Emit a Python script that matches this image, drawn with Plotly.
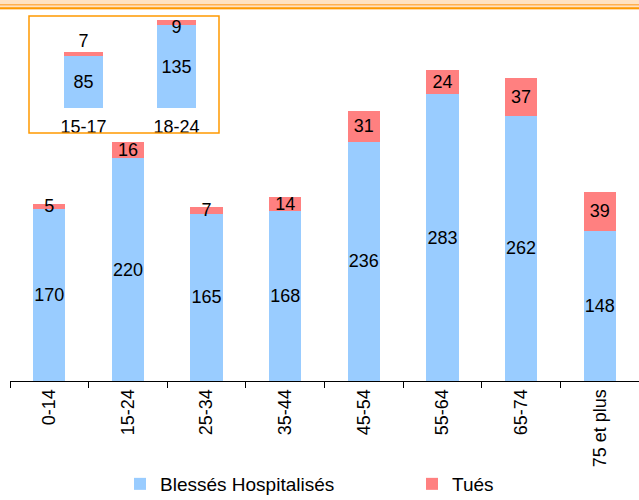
import plotly.graph_objects as go

# main chart data
age_groups = ["0-14", "15-24", "25-34", "35-44", "45-54", "55-64", "65-74", "75 et plus"]
blesses = [170, 220, 165, 168, 236, 283, 262, 148]
tues = [5, 16, 7, 14, 31, 24, 37, 39]

# inset: detail of the 15-24 group
inset_groups = ["15-17", "18-24"]
inset_blesses = [85, 135]
inset_tues = [7, 9]

BLUE = "#99CCFF"
RED = "#FF8080"
ORANGE = "#FF9900"
FONT = "Liberation Sans, Arial, sans-serif"
FS = 18

# plot area in pixels: x 10..639, y 10..381
L, R, T, B = 10, 639, 10, 381
W, H = R - L, B - T


def px_x(x):
    return (x - L) / W


def px_y(y):
    return (B - y) / H


fig = go.Figure()
fig.add_trace(go.Bar(x=age_groups, y=blesses, name="Blessés Hospitalisés",
                     marker=dict(color=BLUE, line_width=0),
                     text=blesses, textposition="inside", insidetextanchor="middle",
                     textangle=0, constraintext="none",
                     textfont=dict(color="black", size=FS), cliponaxis=False))
fig.add_trace(go.Bar(x=age_groups, y=tues, name="Tués",
                     marker=dict(color=RED, line_width=0),
                     text=tues, textposition="inside", insidetextanchor="middle",
                     textangle=0, constraintext="none",
                     textfont=dict(color="black", size=FS), cliponaxis=False))

# inset bars
fig.add_trace(go.Bar(x=inset_groups, y=inset_blesses, xaxis="x2", yaxis="y2",
                     marker=dict(color=BLUE, line_width=0), showlegend=False,
                     text=inset_blesses, textposition="inside", insidetextanchor="middle",
                     textangle=0, constraintext="none",
                     textfont=dict(color="black", size=FS)))
fig.add_trace(go.Bar(x=inset_groups, y=inset_tues, xaxis="x2", yaxis="y2",
                     marker=dict(color=RED, line_width=0), showlegend=False))
inset_totals = [b + t for b, t in zip(inset_blesses, inset_tues)]
fig.add_trace(go.Scatter(x=inset_groups, y=inset_totals, xaxis="x2", yaxis="y2",
                         mode="text", text=[str(v) for v in inset_tues],
                         textposition=["top center", "bottom center"],
                         textfont=dict(color="black", size=FS),
                         showlegend=False, hoverinfo="skip", cliponaxis=False))

shapes = [
    # peach band + double orange rule at the top
    dict(type="rect", xref="paper", yref="paper", x0=-0.02, x1=1.02,
         y0=px_y(9.5), y1=px_y(-2), fillcolor="#FFE2C2", line_width=0, layer="below"),
    dict(type="line", xref="paper", yref="paper", x0=-0.02, x1=1.02,
         y0=px_y(4.7), y1=px_y(4.7), line=dict(color="#FFB050", width=1.5)),
    dict(type="line", xref="paper", yref="paper", x0=-0.02, x1=1.02,
         y0=px_y(8.3), y1=px_y(8.3), line=dict(color=ORANGE, width=2)),
    # inset frame
    dict(type="rect", xref="paper", yref="paper", x0=px_x(29), x1=px_x(219),
         y0=px_y(133), y1=px_y(16), line=dict(color=ORANGE, width=1.5),
         layer="above"),
]

fig.update_layout(
    width=639, height=500,
    margin=dict(l=L, r=639 - R, t=T, b=500 - B, autoexpand=False),
    paper_bgcolor="white", plot_bgcolor="white",
    barmode="stack", bargap=0.59,
    font=dict(family=FONT, size=FS, color="black"),
    xaxis=dict(showline=True, linecolor="black", linewidth=1,
               ticks="outside", ticklen=6, tickcolor="black", tickson="boundaries",
               tickangle=-90, tickfont=dict(size=FS), showgrid=False, automargin=False),
    yaxis=dict(range=[0, H / 1.013], visible=False, automargin=False),
    xaxis2=dict(domain=[px_x(37), px_x(223)], anchor="y2", showline=False,
                ticks="", tickangle=0, tickfont=dict(size=FS), showgrid=False,
                ticklabelstandoff=6, automargin=False),
    yaxis2=dict(domain=[px_y(108), px_y(16)], anchor="x2", range=[0, 150],
                visible=False, automargin=False),
    legend=dict(orientation="h", traceorder="normal",
                xref="container", yref="container",
                x=120 / 639, xanchor="left", y=(500 - 484) / 500,
                yanchor="middle", entrywidth=247, font=dict(size=19),
                bgcolor="rgba(0,0,0,0)"),
    shapes=shapes,
    showlegend=True,
)

fig.write_html("out.html", config={"displayModeBar": False},
               post_script="document.body.style.margin='0';")
